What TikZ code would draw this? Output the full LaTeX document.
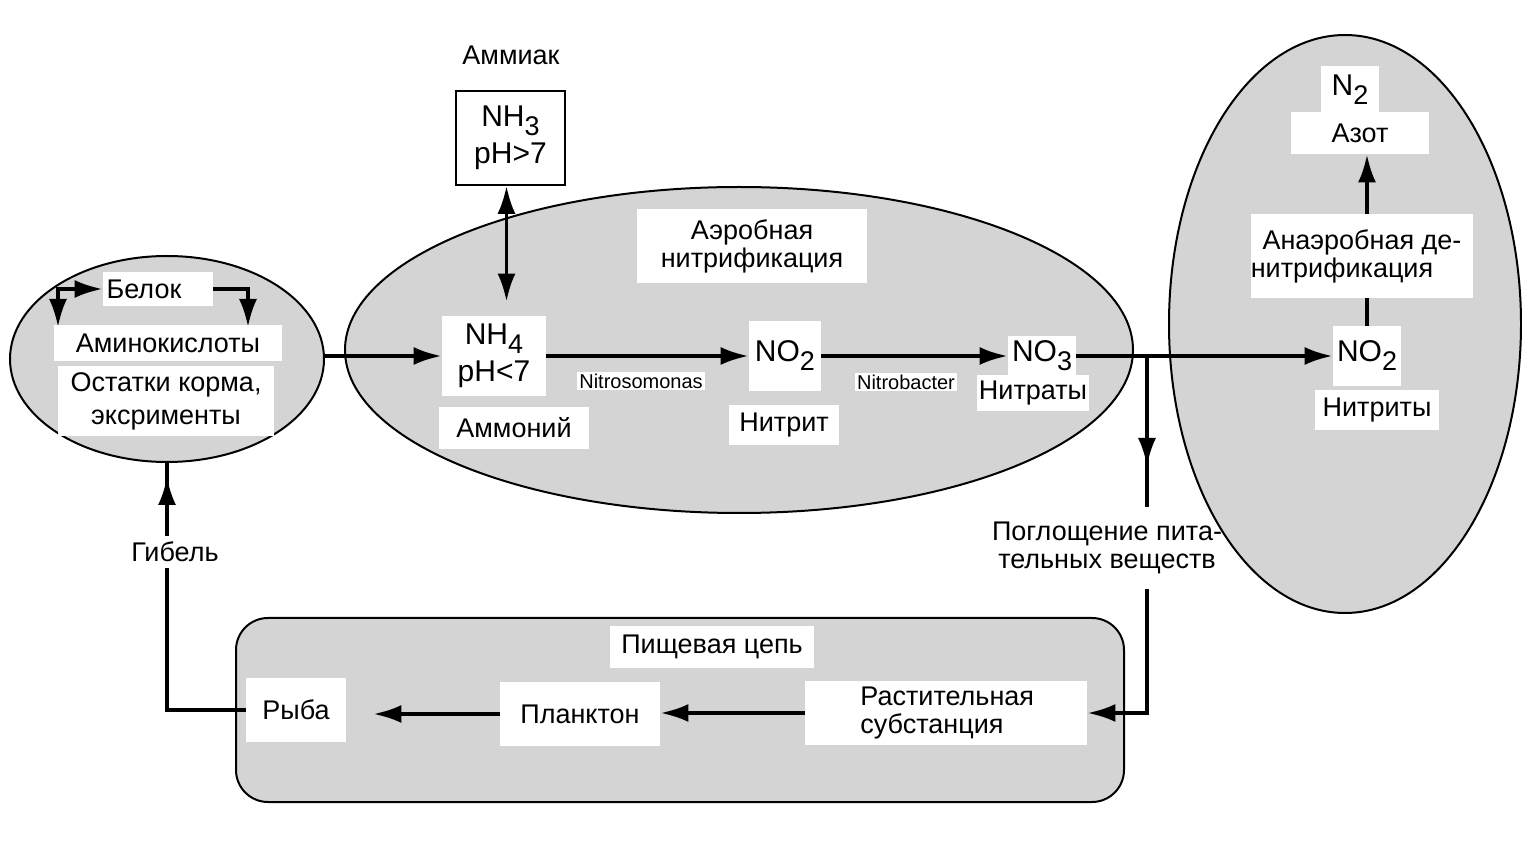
\documentclass[tikz,border=0pt]{standalone}
\usepackage{fontspec}
\setmainfont{Liberation Sans}
\usetikzlibrary{arrows.meta,calc,shapes.geometric}
\newcommand\subs[1]{\raisebox{-4.5pt}{\fontsize{13.5}{12}\selectfont #1}}
\begin{document}
\begin{tikzpicture}[x=0.5pt,y=-0.5pt,
  lbl/.style={font=\fontsize{13.5}{14}\selectfont, align=center, inner sep=0pt},
  wbox/.style={lbl, fill=white},
  chem/.style={font=\fontsize{15}{18.5}\selectfont},
  small/.style={font=\fontsize{10}{12}\selectfont, inner sep=1pt, fill=white},
  zone/.style={draw=black, line width=1pt, fill=black!17},
  arr/.style={line width=1.8pt, -{Latex[length=14pt,width=9pt]}},
  darr/.style={line width=1.8pt, {Latex[length=14pt,width=9pt]}-{Latex[length=14pt,width=9pt]}},
  ln/.style={line width=1.8pt}]
\useasboundingbox (0,0) rectangle (1522,844);
% zones
\node[zone, ellipse, minimum width=157pt, minimum height=103pt, inner sep=0pt] (le) at (167,359) {};
\node[zone, ellipse, minimum width=394pt, minimum height=163pt, inner sep=0pt] (me) at (739,350) {};
\node[zone, ellipse, minimum width=176pt, minimum height=289pt, inner sep=0pt] (re) at (1345,324) {};
\node[zone, rounded corners=16pt, minimum width=444pt, minimum height=92pt, inner sep=0pt] (fc) at (680,710) {};
% left ellipse
\node[wbox, minimum width=55pt, minimum height=17pt] (bel) at (158,289) {Белок\hspace*{14pt}};
\node[wbox, minimum width=114pt, minimum height=18pt] (amino) at (168,343) {Аминокислоты};
\node[wbox, minimum width=108pt, minimum height=35pt, font=\fontsize{13.5}{16.5}\selectfont] (rest) at (166,401) {Остатки корма,\\эксрименты};
\coordinate (al) at (58,327);
\coordinate (ar) at (248,327);
% ammonia
\node[lbl] (amm) at (511,55) {Аммиак};
\node[lbl, chem, draw, line width=0.8pt, fill=white, minimum width=54.5pt, minimum height=47pt] (nh3) at (510.5,138) {NH\subs{3}\\pH>7};
% middle ellipse
\node[wbox, minimum width=115pt, minimum height=37pt] (aero) at (752,246) {Аэробная\\нитрификация};
\node[wbox, chem, minimum width=52pt, minimum height=40pt] (nh4) at (494,356) {NH\subs{4}\\pH<7};
\node[wbox, minimum width=75pt, minimum height=21pt] (ammon) at (514,428) {Аммоний};
\node[wbox, chem, minimum width=36pt, minimum height=35pt] (no2a) at (785,356) {NO\subs{2}};
\node[wbox, minimum width=55pt, minimum height=20pt] (nitrit) at (784,425) {Нитрит};
\node[wbox, chem, minimum width=34pt, minimum height=20pt] (no3) at (1042,356) {NO\subs{3}};
\node[wbox, minimum width=56pt, minimum height=18pt] (nitraty) at (1033,393) {Нитраты};
\node[small] (nso) at (641,381) {Nitrosomonas};
\node[small] (nba) at (906,382) {Nitrobacter};
% right ellipse
\node[wbox, chem, minimum width=29pt, minimum height=24pt] (n2) at (1350,90) {N\subs{2}};
\node[wbox, minimum width=69pt, minimum height=21pt] (azot) at (1360,133) {Азот};
\node[wbox, minimum width=107pt, minimum height=42pt] (anaer) at (1362,256) {Анаэробная де-\\нитрификация\hspace*{20pt}};
\node[wbox, chem, minimum width=34pt, minimum height=30pt] (no2b) at (1367,356) {NO\subs{2}};
\node[wbox, minimum width=62pt, minimum height=20pt] (nitrity) at (1377,410) {Нитриты};
% uptake
\node[lbl, minimum height=41pt] (pogl) at (1107,548) {Поглощение пита-\\тельных веществ};
\node[lbl, minimum height=16pt] (gibel) at (175,552) {Гибель};
% food chain
\node[wbox, minimum width=102pt, minimum height=21pt] (pish) at (712,647) {Пищевая цепь};
\node[wbox, minimum width=50pt, minimum height=32pt] (ryba) at (296,710) {Рыба};
\node[wbox, minimum width=80pt, minimum height=32pt] (plank) at (580,714) {Планктон};
\node[wbox, minimum width=141pt, minimum height=32pt, align=left] (rast) at (946,713) {\hspace*{16pt}Растительная\\\hspace*{16pt}субстанция\hspace*{30pt}};
% connectors
\draw[darr] (al) |- (bel.west);
\draw[arr] (bel.east) -| (ar);
\draw[arr] (le.east |- nh4.west) -- (nh4.west);
\draw[darr] ($(nh3.south)+(-4,0)$) -- ($(nh3.south |- nh4.north)+(-4,-14)$);
\draw[arr] (nh4.east) -- (no2a.west);
\draw[arr] (no2a.east) -- (no3.west);
\coordinate (br) at (1147,356);
\draw[arr] (no3.east) -- (no2b.west);
\draw[ln] (br) -- (br |- pogl.north);
\draw[arr] (br) -- ($(br)+(0,110)$);
\draw[arr] (br |- pogl.south) |- (rast.east);
\draw[arr] (rast.west) -- (rast.west -| plank.east);
\draw[arr] (plank.west) -- ($(plank.west -| ryba.east)+(27,0)$);
\draw[ln] (ryba.west) -| (gibel.south -| le.south);
\draw[ln] (gibel.north -| le.south) -- (le.south);
\draw[arr] (gibel.north -| le.south) -- ($(le.south)+(0,14)$);
\draw[ln] (no2b.north) -- (no2b.north |- anaer.south);
\draw[arr] (no2b.north |- anaer.north) -- (no2b.north |- azot.south);
\end{tikzpicture}
\end{document}
